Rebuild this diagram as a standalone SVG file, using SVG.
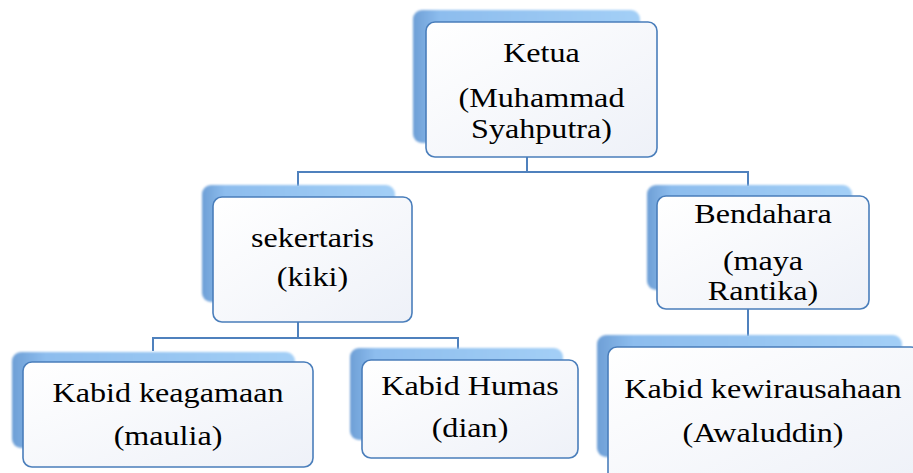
<svg xmlns="http://www.w3.org/2000/svg" width="913" height="473" viewBox="0 0 913 473">
<style>
.sh{fill:url(#gs);filter:url(#bl)}
.fr{fill:url(#gf);stroke:#4a7ebb;stroke-width:1.6}
.t{font-family:"Liberation Serif","Times New Roman",serif;font-size:27px;fill:#000;text-anchor:middle}
.c{fill:none;stroke:#4f81bd;stroke-width:2}
</style>
<defs>
<linearGradient id="gs" x1="0" y1="0" x2="1" y2="0">
<stop offset="0" stop-color="#6e9fd6"/>
<stop offset="0.12" stop-color="#8dbdee"/>
<stop offset="1" stop-color="#a3cff6"/>
</linearGradient>
<linearGradient id="gf" x1="0" y1="0" x2="1" y2="1">
<stop offset="0" stop-color="#ffffff"/>
<stop offset="1" stop-color="#eef1f8"/>
</linearGradient>
<filter id="bl" x="-5%" y="-5%" width="110%" height="110%"><feGaussianBlur stdDeviation="1.2"/></filter>
</defs>
<g id="connectors">
<polyline class="c" points="527,157 527,172 298,172 298,186"/>
<polyline class="c" points="527,172 748,172 748,186"/>
<polyline class="c" points="298,322 298,338 153,338 153,351"/>
<polyline class="c" points="298,338 458,338 458,349"/>
<polyline class="c" points="748,309 748,336"/>
</g>
<g id="ketua">
<rect class="sh" x="413" y="10" width="227" height="133" rx="9"/>
<rect class="fr" x="426" y="22" width="231" height="135" rx="9"/>
<g transform="translate(541.5,0) scale(1.19,1)">
<text class="t" x="0" y="62">Ketua</text>
<text class="t" x="0" y="107">(Muhammad</text>
<text class="t" x="0" y="138">Syahputra)</text>
</g>
</g>
<g id="sekertaris">
<rect class="sh" x="202" y="185" width="193" height="117" rx="9"/>
<rect class="fr" x="213" y="197" width="199" height="125" rx="9"/>
<g transform="translate(312.5,0) scale(1.19,1)">
<text class="t" x="0" y="247">sekertaris</text>
<text class="t" x="0" y="286">(kiki)</text>
</g>
</g>
<g id="bendahara">
<rect class="sh" x="647" y="185" width="205" height="105" rx="9"/>
<rect class="fr" x="657" y="196" width="212" height="113" rx="9"/>
<g transform="translate(763,0) scale(1.19,1)">
<text class="t" x="0" y="223">Bendahara</text>
<text class="t" x="0" y="270">(maya</text>
<text class="t" x="0" y="300">Rantika)</text>
</g>
</g>
<g id="keagamaan">
<rect class="sh" x="12" y="352" width="283" height="96" rx="9"/>
<rect class="fr" x="23" y="362" width="290" height="105" rx="9"/>
<g transform="translate(168,0) scale(1.19,1)">
<text class="t" x="0" y="402">Kabid keagamaan</text>
<text class="t" x="0" y="445">(maulia)</text>
</g>
</g>
<g id="humas">
<rect class="sh" x="350" y="348" width="213" height="92" rx="9"/>
<rect class="fr" x="362" y="360" width="216" height="98" rx="9"/>
<g transform="translate(470,0) scale(1.19,1)">
<text class="t" x="0" y="395">Kabid Humas</text>
<text class="t" x="0" y="437">(dian)</text>
</g>
</g>
<g id="kewirausahaan">
<rect class="sh" x="597" y="335" width="305" height="122" rx="9"/>
<rect class="fr" x="608" y="347" width="312" height="140" rx="9"/>
<g transform="translate(763,0) scale(1.19,1)">
<text class="t" x="0" y="398">Kabid kewirausahaan</text>
<text class="t" x="0" y="442">(Awaluddin)</text>
</g>
</g>
</svg>
